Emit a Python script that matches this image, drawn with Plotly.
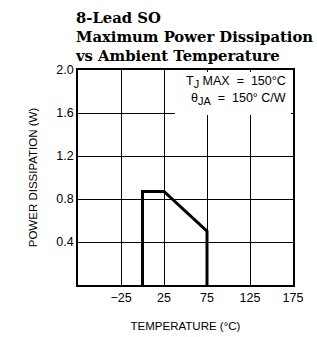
import plotly.graph_objects as go

temp = [0, 0, 25, 75, 75]
power = [0, 0.87, 0.87, 0.50, 0]
x_ticks = [-25, 25, 75, 125, 175]
x_tick_text = ["−25", "25", "75", "125", "175"]
y_ticks = [0.4, 0.8, 1.2, 1.6, 2.0]
y_tick_text = ["0.4", "0.8", "1.2", "1.6", "2.0"]

L, R, T, B = 78, 293, 70, 285
W, H = R - L, B - T

fig = go.Figure()
fig.add_trace(go.Scatter(x=temp, y=power, mode="lines",
                         line=dict(color="black", width=3), showlegend=False,
                         hoverinfo="skip"))

tickfont = dict(family="Liberation Sans, Arial, sans-serif", size=12.5, color="black")
titlefont = dict(family="Liberation Sans, Arial, sans-serif", size=11.5, color="black")
fig.update_layout(
    template="none",
    width=317, height=337,
    margin=dict(l=L, r=317 - R, t=T, b=337 - B, pad=0),
    paper_bgcolor="white", plot_bgcolor="white",
    font=tickfont,
    xaxis=dict(range=[-75, 175], tickmode="array", tickvals=x_ticks, ticktext=x_tick_text,
               showgrid=True, gridcolor="rgb(0,0,0)", gridwidth=1,
               showline=True, linecolor="black", linewidth=1.5, mirror=True,
               zeroline=False, ticks="", automargin=False, tickfont=tickfont,
               title=dict(text="TEMPERATURE (°C)", font=titlefont, standoff=18)),
    yaxis=dict(range=[0, 2.0], tickmode="array", tickvals=y_ticks, ticktext=y_tick_text,
               showgrid=True, gridcolor="rgb(0,0,0)", gridwidth=1,
               showline=True, linecolor="black", linewidth=1.5, mirror=True,
               zeroline=False, ticks="", automargin=False, tickfont=tickfont,
               title=dict(text="POWER DISSIPATION (W)", font=titlefont, standoff=16)),
)

# white box behind the condition text (covers grid lines there)
fig.add_annotation(xref="paper", yref="paper", x=(175 - L) / W, y=1, yshift=-1.5,
                   xanchor="left", yanchor="top", showarrow=False, text=" ",
                   width=116, height=43, bgcolor="white", borderpad=0, borderwidth=0)

sub = "<sub><span style='font-size:11px'>{}</span></sub>"
fig.add_annotation(xref="paper", yref="paper", x=(288 - L) / W, y=(B - 82) / H,
                   xanchor="right", yanchor="middle", showarrow=False,
                   text="T" + sub.format("J") + " MAX  =  150°C", font=tickfont)
fig.add_annotation(xref="paper", yref="paper", x=(288 - L) / W, y=(B - 99) / H,
                   xanchor="right", yanchor="middle", showarrow=False,
                   text="θ" + sub.format("JA") + "  =  150° C/W", font=tickfont)

fig.add_annotation(xref="paper", yref="paper", x=(73 - L) / W, y=1, yshift=4,
                   xanchor="left", yanchor="bottom", showarrow=False, align="left",
                   text="<b>8-Lead SO<br>Maximum Power Dissipation<br>vs Ambient Temperature</b>",
                   font=dict(family="DejaVu Serif, serif", size=14.8, color="black"))

fig.write_html("out.html", config={"displayModeBar": False},
               post_script="document.body.style.margin='0';")
